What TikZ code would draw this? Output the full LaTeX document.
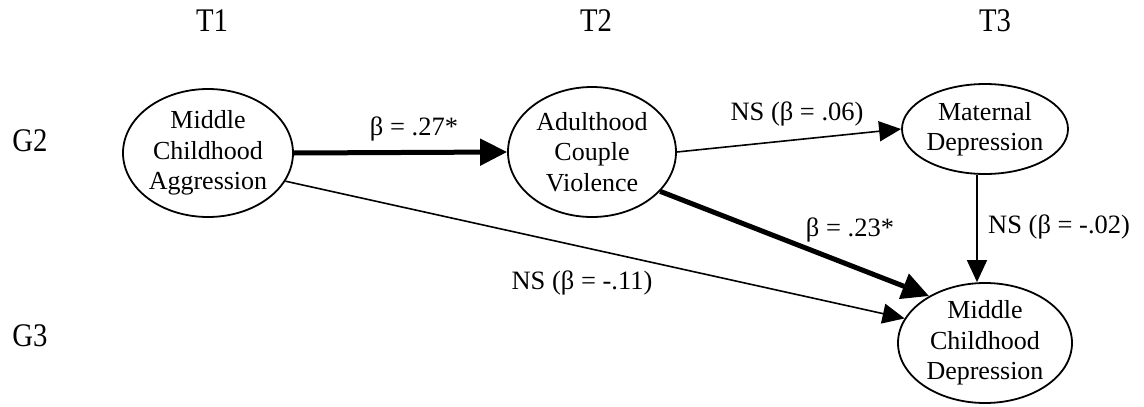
\documentclass[tikz,border=0pt]{standalone}
\usepackage{fontspec}
\setmainfont{Liberation Serif}
\newfontfamily\hdfont{Liberation Serif}[FakeStretch=0.87]
\usetikzlibrary{shapes.geometric,arrows.meta}
\begin{document}
\begin{tikzpicture}[x=1pt,y=-1pt,
  var/.style={ellipse,draw,line width=1.8pt,inner xsep=0pt,inner ysep=-3pt,align=center,font=\fontsize{26}{30.5}\selectfont},
  hd/.style={font=\hdfont\fontsize{33}{36}\selectfont,inner sep=0pt},
  lab/.style={font=\fontsize{26.5}{30}\selectfont,inner sep=0pt},
  weak/.style={line width=1.6pt,-{Triangle[length=22pt,width=20pt]}},
  strong/.style={line width=5pt,-{Triangle[length=27pt,width=26pt]}}]
\useasboundingbox (0,0) rectangle (1144,407);
% column and row headings
\node[hd] (t1) at (212,21) {T1};
\node[hd] (t2) at (596,21) {T2};
\node[hd] (t3) at (995,21) {T3};
\node[hd] (g2) at (30,141) {G2};
\node[hd] (g3) at (30,336) {G3};
% variables
\node[var,minimum width=170pt,minimum height=128pt] (a) at (208,153) {Middle\\Childhood\\Aggression};
\node[var,minimum width=168pt,minimum height=130pt] (b) at (592,152) {Adulthood\\Couple\\Violence};
\node[var,minimum width=166pt,minimum height=90pt] (c) at (985,129) {Maternal\\Depression};
\node[var,minimum width=174pt,minimum height=120pt] (d) at (985,343) {Middle\\Childhood\\Depression};
% paths
\draw[strong] (a.east) -- (b.west);
\draw[weak] (b.east) -- (c.west);
\draw[strong] (b.-30) -- (d.140);
\draw[weak] (a.-20) -- (d.163);
\draw[weak] ([xshift=-8pt]c.south) -- ([xshift=-8pt]d.north);
% labels
\node[lab] (l1) at (414,129) {β = .27*};
\node[lab] (l2) at (797,114) {NS (β = .06)};
\node[lab] (l3) at (850,230) {β = .23*};
\node[lab] (l4) at (582,283) {NS (β = -.11)};
\node[lab,anchor=west] (l5) at (988,227) {NS (β = -.02)};
\end{tikzpicture}
\end{document}
